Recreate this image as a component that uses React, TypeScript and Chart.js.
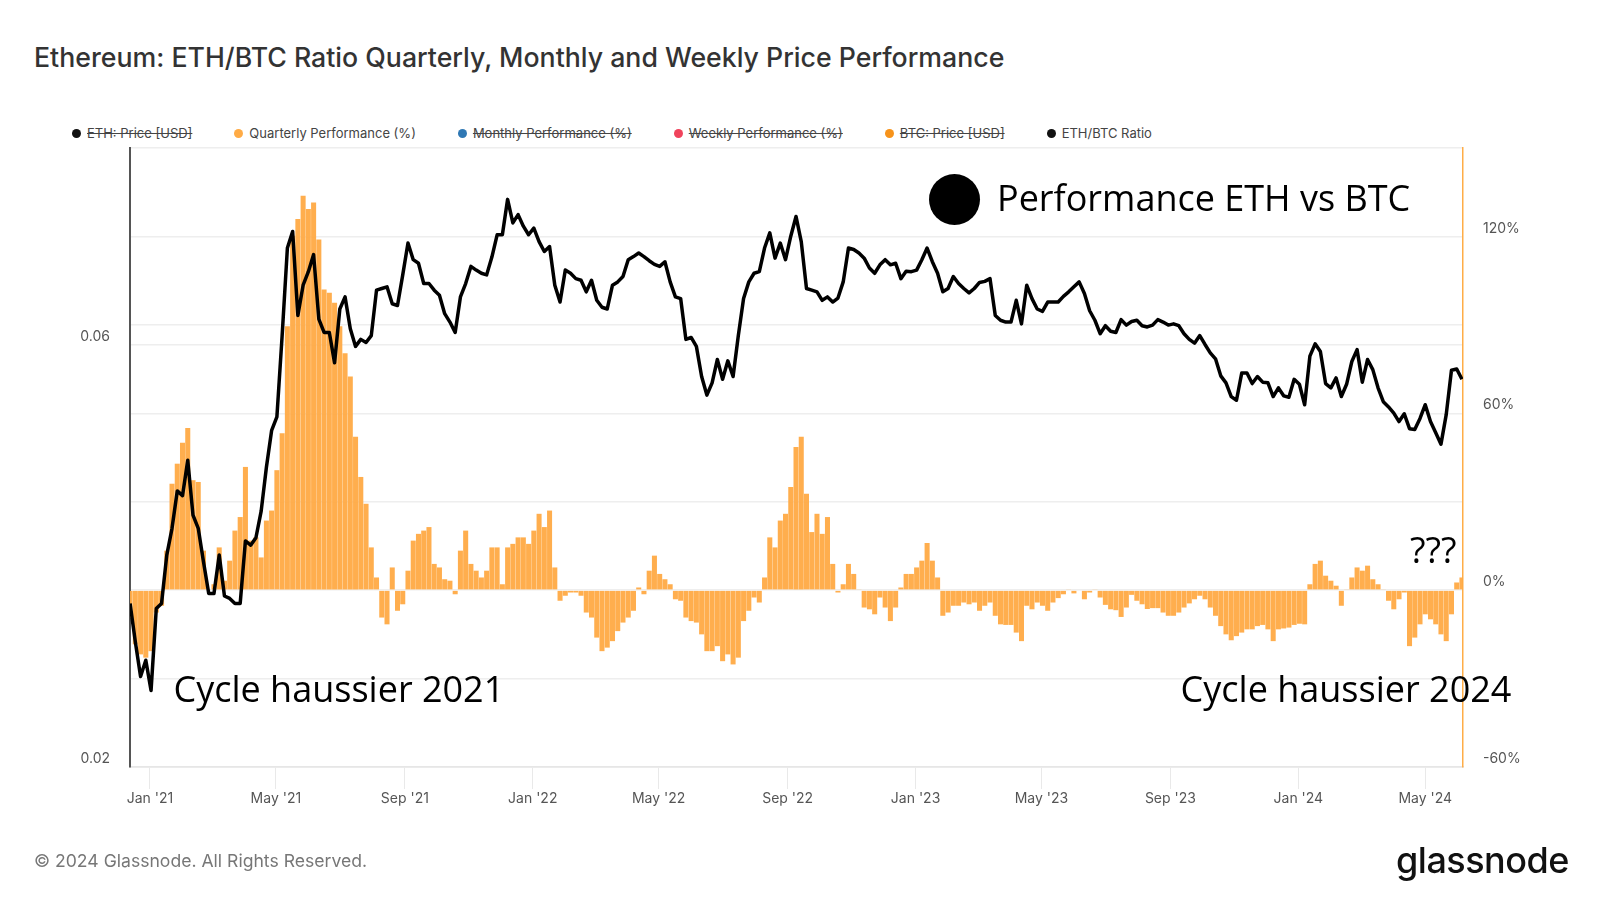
import React, { useEffect, useRef } from 'react';
import { Chart, registerables } from 'chart.js';

Chart.register(...registerables);

// x positions: days relative to 1 Jan 2021, first sample 13 Dec 2020, every 5 days
const START_DAY = -19;
const STEP_DAYS = 5;

const ethBtcRatio = [
  0.0306, 0.0277, 0.0253, 0.0264, 0.0244, 0.0302, 0.0306, 0.0347, 0.0372, 0.0410,
  0.0405, 0.0444, 0.0385, 0.0372, 0.0341, 0.0314, 0.0314, 0.0347, 0.0312, 0.0310,
  0.0306, 0.0306, 0.0360, 0.0356, 0.0363, 0.0389, 0.0436, 0.0480, 0.0497, 0.0614,
  0.0771, 0.0805, 0.0647, 0.0700, 0.0725, 0.0758, 0.0641, 0.0619, 0.0619, 0.0572,
  0.0658, 0.0679, 0.0625,
  0.0597, 0.0608, 0.0603, 0.0614, 0.0691, 0.0694, 0.0697,
  0.0667, 0.0664, 0.0719, 0.0781, 0.0748, 0.0741, 0.0703, 0.0703, 0.0691, 0.0682,
  0.0650, 0.0636, 0.0619, 0.0679, 0.0703, 0.0735, 0.0728, 0.0722, 0.0719, 0.0753,
  0.0798, 0.0798, 0.0875, 0.0823, 0.0841, 0.0816, 0.0798, 0.0812, 0.0784, 0.0764,
  0.0774, 0.0700, 0.0670, 0.0728, 0.0722,
  0.0712, 0.0709, 0.0688, 0.0709, 0.0673,
  0.0661, 0.0658, 0.0700, 0.0706, 0.0716, 0.0748, 0.0754, 0.0761, 0.0754, 0.0746,
  0.0739, 0.0735, 0.0744, 0.0706, 0.0679, 0.0676, 0.0608, 0.0611, 0.0597, 0.0552,
  0.0526, 0.0543, 0.0577, 0.0548, 0.0575, 0.0552, 0.0614, 0.0676, 0.0706, 0.0722,
  0.0725, 0.0771, 0.0802, 0.0751, 0.0781, 0.0748, 0.0795,
  0.0837, 0.0784, 0.0694,
  0.0691, 0.0688, 0.0673, 0.0679, 0.0670, 0.0677, 0.0706, 0.0771, 0.0768, 0.0761,
  0.0751, 0.0732, 0.0722, 0.0738, 0.0748, 0.0738, 0.0741, 0.0712, 0.0726, 0.0725,
  0.0728, 0.0748, 0.0771, 0.0744, 0.0722, 0.0688, 0.0694, 0.0716, 0.0703, 0.0694,
  0.0686, 0.0694, 0.0705, 0.0707, 0.0712, 0.0647, 0.0639, 0.0636, 0.0636, 0.0673,
  0.0633, 0.0700, 0.0676, 0.0658, 0.0654, 0.0670, 0.0670, 0.0670, 0.0680, 0.0688,
  0.0697, 0.0706, 0.0685, 0.0655, 0.0639, 0.0617, 0.0630, 0.0621, 0.0619, 0.0640,
  0.0631, 0.0637, 0.0639, 0.0630, 0.0628, 0.0631, 0.0640, 0.0636, 0.0631, 0.0633,
  0.0630, 0.0617, 0.0608, 0.0602, 0.0614, 0.0600, 0.0587, 0.0578, 0.0553, 0.0543,
  0.0524, 0.0519,
  0.0557, 0.0557, 0.0542, 0.0552, 0.0544, 0.0543, 0.0524, 0.0536,
  0.0525, 0.0523, 0.0548, 0.0541, 0.0513, 0.0582, 0.0601, 0.0589, 0.0542, 0.0536,
  0.0550, 0.0524, 0.0541, 0.0574, 0.0592, 0.0544, 0.0577, 0.0562, 0.0536, 0.0517,
  0.0510, 0.0502, 0.0491, 0.0501, 0.0482, 0.0481, 0.0495, 0.0513, 0.0491, 0.0477,
  0.0463, 0.0500, 0.0561, 0.0563, 0.0548,
];

const quarterlyPerf = [
  -9.3, -18.4, -21.8, -22.9, -20.7, -7.6, -5.3, 13.4, 36.1, 42.9,
  50, 55, 37.3, 36.7, 13.4, 0.3, 2, 14.5, 3.2, 10,
  20.2, 24.8, 41.8, 16.8, 17.9, 11.1, 23.6, 27, 40.7, 53.2,
  89.5, 120.2, 125.9, 133.8, 129.3, 131.5, 119, 102, 100.9, 97.5,
  89.5, 80.4, 72.5,
  52, 38.4, 29.3, 14.5, 4.3, -9.3, -11.6,
  7.7, -7, -4.8, 6.6, 16.8, 19.1, 20.2, 21.4, 8.9, 7.7,
  3.7, 3.2, -1.4, 13.4, 20.2, 8.9, 6.6, 4.3, 6.6, 14.5,
  14.5, 2, 14.5, 15.7, 17.9, 17.9, 15.7, 20.2, 25.9, 21.4,
  27, 7.7, -3.6, -1.9, -0.8,
  -0.8, -1.9, -7.6, -9.3, -16.1,
  -20.7, -19.5, -17.3, -13.9, -11, -9.3, -7, 0.9, -1.4, 6.6,
  11.7, 5.5, 3.7, 2, -3.1, -3.6, -9.3, -10.5, -11, -15,
  -20.7, -20.7, -19, -24.1, -21.8, -25.2, -22.9, -10.5, -7, -2.5,
  -4.2, 4.3, 17.9, 14.5, 23.6, 25.9, 35,
  48.6, 52, 32.7,
  19.7, 25.9, 19.1, 24.8, 8.9, -0.8, 2, 8.9, 5.5, 0.3,
  -5.9, -6.5, -8.2, -2.5, -5.9, -10.5, -5.9, 0.9, 5.5, 5.5,
  7.7, 10, 16, 10, 4.3, -8.7, -7.6, -5.3, -5.3, -4.2,
  -4.8, -4.2, -7, -5.3, -4.2, -8.7, -11.6, -11.8, -11.8, -14.4,
  -17.3, -5.3, -6.5, -4.2, -5.3, -7, -4.2, -2.7, -1.4, 0.3,
  -1.1, 0, -3.1, -0.8, 0.3, -2.5, -5, -6.5, -6.8, -9.1,
  -5.9, -1.6, -3.6, -4.8, -6.4, -6.1, -6.1, -7.6, -8.7, -8.7,
  -7.6, -5.9, -4.5, -3.1, -1.9, -3.1, -5.9, -8.7, -12.2, -15,
  -17, -15.6,
  -14.4, -13.3, -13.3, -12.2, -11.8, -13.3, -17.3, -13.3,
  -13, -12.7, -11.8, -11.4, -11.6, 2, 8.9, 10, 4.9, 3.2,
  1.5, -5.3, 0.3, 4.3, 7.7, 6.6, 8.3, 3.7, 2, 0.3,
  -3.6, -6.5, -3.1, -0.8, -19, -16.1, -11.6, -8.2, -9.9, -11.6,
  -15, -17.3, -8.2, 2.6, 4.3,
];

const tickDays = [0, 120, 243, 365, 485, 608, 730, 850, 973, 1095, 1216];
const tickLabels = ["Jan '21", "May '21", "Sep '21", "Jan '22", "May '22", "Sep '22", "Jan '23", "May '23", "Sep '23", "Jan '24", "May '24"];
const leftTicks = [0.02, 0.06];
const rightLabelTicks = [-60, 0, 60, 120];

const legendItems = [
  { label: 'ETH: Price [USD]', color: '#111111', hidden: true },
  { label: 'Quarterly Performance (%)', color: '#ffab45', hidden: false },
  { label: 'Monthly Performance (%)', color: '#2f78b4', hidden: true },
  { label: 'Weekly Performance (%)', color: '#f0435c', hidden: true },
  { label: 'BTC: Price [USD]', color: '#f7931a', hidden: true },
  { label: 'ETH/BTC Ratio', color: '#111111', hidden: false },
];

const BAR_COLOR = 'rgba(255, 170, 68, 0.95)';

export default function App() {
  const canvasRef = useRef<HTMLCanvasElement | null>(null);

  useEffect(() => {
    const canvas = canvasRef.current;
    if (!canvas) return;
    const days = ethBtcRatio.map((_, i) => START_DAY + i * STEP_DAYS);
    const chart = new Chart(canvas, {
      type: 'bar',
      data: {
        datasets: [
          {
            type: 'line',
            label: 'ETH/BTC Ratio',
            data: days.map((d, i) => ({ x: d, y: ethBtcRatio[i] })),
            yAxisID: 'yL',
            borderColor: '#000000',
            borderWidth: 3.5,
            pointRadius: 0,
            tension: 0,
            borderJoinStyle: 'round',
            order: 0,
          } as any,
          {
            type: 'bar',
            label: 'Quarterly Performance (%)',
            data: days.map((d, i) => ({ x: d, y: quarterlyPerf[i] })),
            yAxisID: 'yR',
            backgroundColor: BAR_COLOR,
            borderWidth: 0,
            barPercentage: 0.96,
            categoryPercentage: 1,
            order: 1,
          } as any,
        ],
      },
      options: {
        responsive: false,
        animation: false,
        devicePixelRatio: 1,
        layout: { padding: { top: 148, left: 0, right: 0, bottom: 0 } },
        plugins: { legend: { display: false }, tooltip: { enabled: false } },
        scales: {
          x: {
            type: 'linear',
            min: -19.07,
            max: 1252,
            offset: false,
            afterBuildTicks: (s: any) => {
              s.ticks = tickDays.map((v) => ({ value: v }));
            },
            afterFit: (s: any) => {
              s.height = 133;
            },
            grid: { offset: false, drawOnChartArea: false, drawTicks: true, tickLength: 22, color: '#e9e9e9' },
            border: { display: true, color: '#e6e6e6', width: 1.5 },
            ticks: {
              padding: 1,
              color: '#555555',
              font: { family: 'Inter', size: 14 },
              maxRotation: 0,
              autoSkip: false,
              callback: (v: any) => {
                const k = tickDays.indexOf(Number(v));
                return k >= 0 ? tickLabels[k] : '';
              },
            },
          },
          yL: {
            type: 'logarithmic',
            position: 'left',
            min: 0.02,
            max: 0.1,
            afterBuildTicks: (s: any) => {
              s.ticks = leftTicks.map((v) => ({ value: v }));
            },
            afterFit: (s: any) => {
              s.width = 130;
            },
            grid: { color: '#eeeeee', lineWidth: 1.5, drawTicks: false },
            border: { color: '#555555', width: 2 },
            ticks: {
              padding: 20,
              labelOffset: -8,
              color: '#555555',
              font: { family: 'Inter', size: 14 },
              callback: (v: any) => Number(v).toFixed(2),
            },
          },
          yR: {
            type: 'linear',
            position: 'right',
            min: -60,
            max: 150,
            afterFit: (s: any) => {
              s.width = 137;
            },
            grid: { color: '#eeeeee', lineWidth: 1.5, drawTicks: false },
            border: { color: '#ffad47', width: 1.5 },
            ticks: {
              stepSize: 30,
              padding: 20,
              labelOffset: -8,
              color: '#555555',
              font: { family: 'Inter', size: 14 },
              callback: (v: any) => (rightLabelTicks.includes(Number(v)) ? `${v}%` : ''),
            },
          },
        },
      } as any,
    });
    return () => chart.destroy();
  }, []);

  return (
    <div style={{ position: 'absolute', left: 0, top: 0, width: 1600, height: 900, background: '#ffffff', overflow: 'hidden' }}>
      <div
        style={{
          position: 'absolute', left: 34, top: 44, fontFamily: 'Inter', fontWeight: 500, fontSize: 26.7,
          lineHeight: '26px', color: '#333333', whiteSpace: 'nowrap',
        }}
      >
        Ethereum: ETH/BTC Ratio Quarterly, Monthly and Weekly Price Performance
      </div>
      <div
        style={{
          position: 'absolute', left: 72, top: 126.5, display: 'flex', alignItems: 'center', gap: 42,
          fontFamily: 'Inter', fontSize: 13, lineHeight: '13px', color: '#444444', whiteSpace: 'nowrap',
        }}
      >
        {legendItems.map((it) => (
          <div key={it.label} style={{ display: 'flex', alignItems: 'center' }}>
            <span style={{ display: 'inline-block', width: 9, height: 9, borderRadius: '50%', background: it.color, marginRight: 6 }} />
            <span style={{ textDecoration: it.hidden ? 'line-through' : 'none' }}>{it.label}</span>
          </div>
        ))}
      </div>
      <canvas ref={canvasRef} width={1600} height={900} style={{ position: 'absolute', left: 0, top: 0, width: 1600, height: 900 }} />
      <div style={{ position: 'absolute', left: 928.5, top: 173.5, width: 51, height: 51, borderRadius: '50%', background: '#000000' }} />
      <div style={{ position: 'absolute', left: 997, top: 180, fontFamily: 'Open Sans', fontSize: 36, lineHeight: '36px', color: '#000000', whiteSpace: 'nowrap' }}>
        Performance ETH vs BTC
      </div>
      <div style={{ position: 'absolute', left: 173.5, top: 671, fontFamily: 'Open Sans', fontSize: 36, lineHeight: '36px', color: '#000000', whiteSpace: 'nowrap' }}>
        Cycle haussier 2021
      </div>
      <div style={{ position: 'absolute', left: 1180.6, top: 671, fontFamily: 'Open Sans', fontSize: 36, lineHeight: '36px', color: '#000000', whiteSpace: 'nowrap' }}>
        Cycle haussier 2024
      </div>
      <div style={{ position: 'absolute', left: 1410, top: 532, fontFamily: 'Open Sans', fontSize: 36, lineHeight: '36px', color: '#000000', whiteSpace: 'nowrap' }}>
        ???
      </div>
      <div style={{ position: 'absolute', left: 34, top: 851.5, fontFamily: 'Inter', fontSize: 17.6, lineHeight: '17px', color: '#777777', whiteSpace: 'nowrap' }}>
        © 2024 Glassnode. All Rights Reserved.
      </div>
      <div style={{ position: 'absolute', left: 1396, top: 842, fontFamily: 'Inter', fontWeight: 500, fontSize: 36, lineHeight: '36px', color: '#111111', whiteSpace: 'nowrap', letterSpacing: -0.5 }}>
        glassnode
      </div>
    </div>
  );
}
